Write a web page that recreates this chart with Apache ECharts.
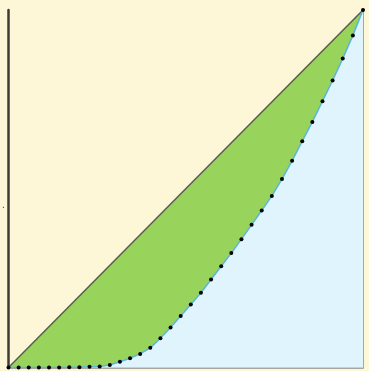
<!DOCTYPE html>
<html>
<head>
<meta charset="utf-8">
<title>Lorenz curve</title>
<script src="https://cdn.jsdelivr.net/npm/echarts@6/dist/echarts.min.js"></script>
<style>
  html, body { margin: 0; padding: 0; background: #fdf7d8; }
  #chart { width: 369px; height: 371px; }
</style>
</head>
<body>
<div id="chart"></div>
<script>
// cumulative share of income, 36 points
const lorenzShare = [
  0, 0, 0, 0, 0, 0, 0.001, 0.001, 0.002, 0.003,
  0.007, 0.016, 0.026, 0.038, 0.055, 0.082, 0.112, 0.144, 0.176, 0.209,
  0.246, 0.283, 0.320, 0.359, 0.399, 0.439, 0.480, 0.527, 0.578, 0.633,
  0.687, 0.745, 0.803, 0.864, 0.929, 1
];
// line of perfect equality
const equalityLine = [[0, 0], [35, 1]];

const lorenzData = lorenzShare.map((v, i) => [i, v]);

const chart = echarts.init(document.getElementById('chart'));

const option = {
  backgroundColor: '#fdf7d8',
  animation: false,
  grid: { left: 8.5, right: 6, top: 10, bottom: 3.5 },
  xAxis: {
    type: 'value',
    min: 0,
    max: 35,
    axisLine: { show: true, lineStyle: { color: '#a4a8a4', width: 2 } },
    axisTick: { show: false },
    axisLabel: { show: false },
    splitLine: { show: false }
  },
  yAxis: [
    {
      type: 'value',
      min: 0,
      max: 1,
      axisLine: { show: true, lineStyle: { color: '#3c3c36', width: 2.5 } },
      axisTick: { show: false },
      axisLabel: { show: false },
      splitLine: { show: false }
    },
    {
      type: 'value',
      position: 'right',
      min: 0,
      max: 1,
      axisLine: { show: true, onZero: false, lineStyle: { color: '#a4a8a4', width: 2 } },
      axisTick: { show: false },
      axisLabel: { show: false },
      splitLine: { show: false }
    }
  ],
  graphic: [
    { type: 'text', left: 2, top: 200, style: { text: '.', fill: '#2a3a7a', fontSize: 10 } }
  ],
  series: [
    {
      type: 'line',
      data: equalityLine,
      symbol: 'none',
      lineStyle: { color: '#5a5a52', width: 1.5 },
      areaStyle: { color: '#98d45c', opacity: 1 },
      z: 2
    },
    {
      type: 'line',
      data: lorenzData,
      symbol: 'circle',
      symbolSize: 4,
      itemStyle: { color: '#000' },
      lineStyle: { color: '#5ab6dc', width: 1.5 },
      areaStyle: { color: '#e0f4fe', opacity: 1 },
      z: 3
    }
  ]
};

chart.setOption(option);
</script>
</body>
</html>
